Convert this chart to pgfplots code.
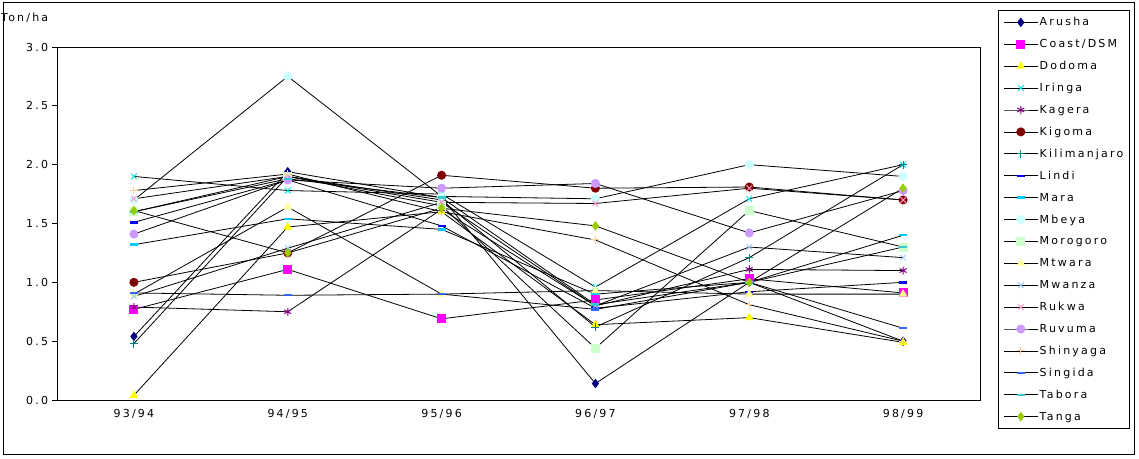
\documentclass[border=0pt]{standalone}
\usepackage{pgfplots}
\pgfplotsset{compat=1.18}
\usepackage{fontspec}
\setmainfont{DejaVu Sans}[LetterSpace=20]
\definecolor{cArusha}{RGB}{0,0,128}
\definecolor{cCoast}{RGB}{255,0,255}
\definecolor{cDodoma}{RGB}{255,255,0}
\definecolor{cIringa}{RGB}{0,230,230}
\definecolor{cKagera}{RGB}{128,0,128}
\definecolor{cKigoma}{RGB}{128,0,0}
\definecolor{cKili}{RGB}{0,128,128}
\definecolor{cLindi}{RGB}{0,0,255}
\definecolor{cMara}{RGB}{0,204,255}
\definecolor{cMbeya}{RGB}{204,255,255}
\definecolor{cMorogoro}{RGB}{204,255,204}
\definecolor{cMtwara}{RGB}{255,255,153}
\definecolor{cMwanza}{RGB}{153,204,255}
\definecolor{cRukwa}{RGB}{255,153,204}
\definecolor{cRuvuma}{RGB}{204,153,255}
\definecolor{cShinyaga}{RGB}{255,204,153}
\definecolor{cSingida}{RGB}{51,102,255}
\definecolor{cTabora}{RGB}{51,204,204}
\definecolor{cTanga}{RGB}{153,204,0}
\pgfplotsset{
  ser/.style 2 args={black, line width=0.8pt, mark=#1, mark size=4pt,
    mark options={solid, draw=#2, fill=#2, line width=1pt}},
  dash/.style={black, line width=0.8pt, mark=-, mark size=4pt,
    mark options={solid, draw=#1, line width=2.4pt}},
}
\begin{document}
\fontsize{11}{13}\selectfont
\begin{tikzpicture}[x=1pt,y=1pt]
\path[use as bounding box] (0,0) rectangle (1139,458);
\draw[black, line width=1pt] (3,4) rectangle (1134,455);
\node[anchor=west, inner sep=0pt] at (1,440) {Ton/ha};
\begin{axis}[
  at={(57pt,58pt)}, anchor=south west, scale only axis,
  width=923pt, height=353pt,
  xmin=-0.5, xmax=5.5, ymin=0, ymax=3,
  axis line style={black, line width=0.8pt},
  xtick={0,1,2,3,4,5},
  xticklabels={93/94,94/95,95/96,96/97,97/98,98/99},
  major x tick style={draw=none},
  extra x ticks={0.5,1.5,2.5,3.5,4.5},
  extra x tick labels={},
  extra x tick style={tick style={draw=black, line width=0.8pt}, major tick length=5pt, tick align=inside},
  ytick={0,0.5,1,1.5,2,2.5,3},
  ytick pos=left, xtick pos=bottom,
  ytick align=outside, major tick length=5pt,
  tick style={black, line width=0.8pt},
  yticklabel style={/pgf/number format/.cd, fixed, fixed zerofill, precision=1, assume math mode=true},
  xticklabel style={yshift=-5pt},
  clip=false,
  legend style={at={(1.0195,1.1048)}, anchor=north west, draw=black, line width=0.8pt,
    cells={anchor=west}, row sep=7.9pt, inner xsep=5pt, inner ysep=5pt,
    nodes={inner sep=1.5pt, text height=9pt, text depth=2pt}},
  legend image code/.code={\draw[mark repeat=2, mark phase=2] plot coordinates {(0pt,0pt)(17pt,0pt)(34pt,0pt)};},
]
\addplot[ser={diamond*}{cArusha}] coordinates {(0,0.54)(1,1.94)(2,1.72)(3,0.14)(4,1.00)(5,0.50)};
\addlegendentry{Arusha}
\addplot[ser={square*}{cCoast}] coordinates {(0,0.77)(1,1.11)(2,0.69)(3,0.85)(4,1.03)(5,0.91)};
\addlegendentry{Coast/DSM}
\addplot[ser={triangle*}{cDodoma}] coordinates {(0,0.04)(1,1.47)(2,1.60)(3,0.64)(4,0.70)(5,0.49)};
\addlegendentry{Dodoma}
\addplot[ser={x}{cIringa}] coordinates {(0,1.90)(1,1.78)(2,1.75)(3,0.96)(4,1.71)(5,2.00)};
\addlegendentry{Iringa}
\addplot[ser={asterisk}{cKagera}] coordinates {(0,0.79)(1,0.75)(2,1.62)(3,0.80)(4,1.11)(5,1.10)};
\addlegendentry{Kagera}
\addplot[ser={*}{cKigoma}] coordinates {(0,1.00)(1,1.25)(2,1.91)(3,1.80)(4,1.81)(5,1.70)};
\addlegendentry{Kigoma}
\addplot[ser={+}{cKili}] coordinates {(0,0.48)(1,1.90)(2,1.70)(3,0.62)(4,1.21)(5,2.00)};
\addlegendentry{Kilimanjaro}
\addplot[dash=cLindi] coordinates {(0,1.51)(1,1.87)(2,1.48)(3,0.78)(4,0.92)(5,1.00)};
\addlegendentry{Lindi}
\addplot[dash=cMara] coordinates {(0,1.32)(1,1.54)(2,1.45)(3,0.90)(4,1.00)(5,1.40)};
\addlegendentry{Mara}
\addplot[ser={*}{cMbeya}] coordinates {(0,1.70)(1,2.75)(2,1.73)(3,1.71)(4,2.00)(5,1.90)};
\addlegendentry{Mbeya}
\addplot[ser={square*}{cMorogoro}] coordinates {(0,1.60)(1,1.90)(2,1.65)(3,0.44)(4,1.61)(5,1.30)};
\addlegendentry{Morogoro}
\addplot[ser={triangle*}{cMtwara}] coordinates {(0,0.90)(1,1.64)(2,0.90)(3,0.93)(4,0.90)(5,0.90)};
\addlegendentry{Mtwara}
\addplot[ser={x}{cMwanza}] coordinates {(0,0.88)(1,1.29)(2,1.68)(3,0.80)(4,1.30)(5,1.21)};
\addlegendentry{Mwanza}
\addplot[ser={x}{cRukwa}] coordinates {(0,1.71)(1,1.90)(2,1.68)(3,1.67)(4,1.80)(5,1.70)};
\addlegendentry{Rukwa}
\addplot[ser={*}{cRuvuma}] coordinates {(0,1.41)(1,1.87)(2,1.80)(3,1.84)(4,1.42)(5,1.78)};
\addlegendentry{Ruvuma}
\addplot[ser={+}{cShinyaga}] coordinates {(0,1.78)(1,1.92)(2,1.60)(3,1.36)(4,0.81)(5,0.50)};
\addlegendentry{Shinyaga}
\addplot[dash=cSingida] coordinates {(0,0.91)(1,0.89)(2,0.90)(3,0.77)(4,1.00)(5,0.61)};
\addlegendentry{Singida}
\addplot[dash=cTabora] coordinates {(0,1.60)(1,1.88)(2,1.72)(3,0.81)(4,1.00)(5,1.30)};
\addlegendentry{Tabora}
\addplot[ser={diamond*}{cTanga}] coordinates {(0,1.61)(1,1.25)(2,1.63)(3,1.48)(4,1.00)(5,1.80)};
\addlegendentry{Tanga}
\end{axis}
\end{tikzpicture}
\end{document}
